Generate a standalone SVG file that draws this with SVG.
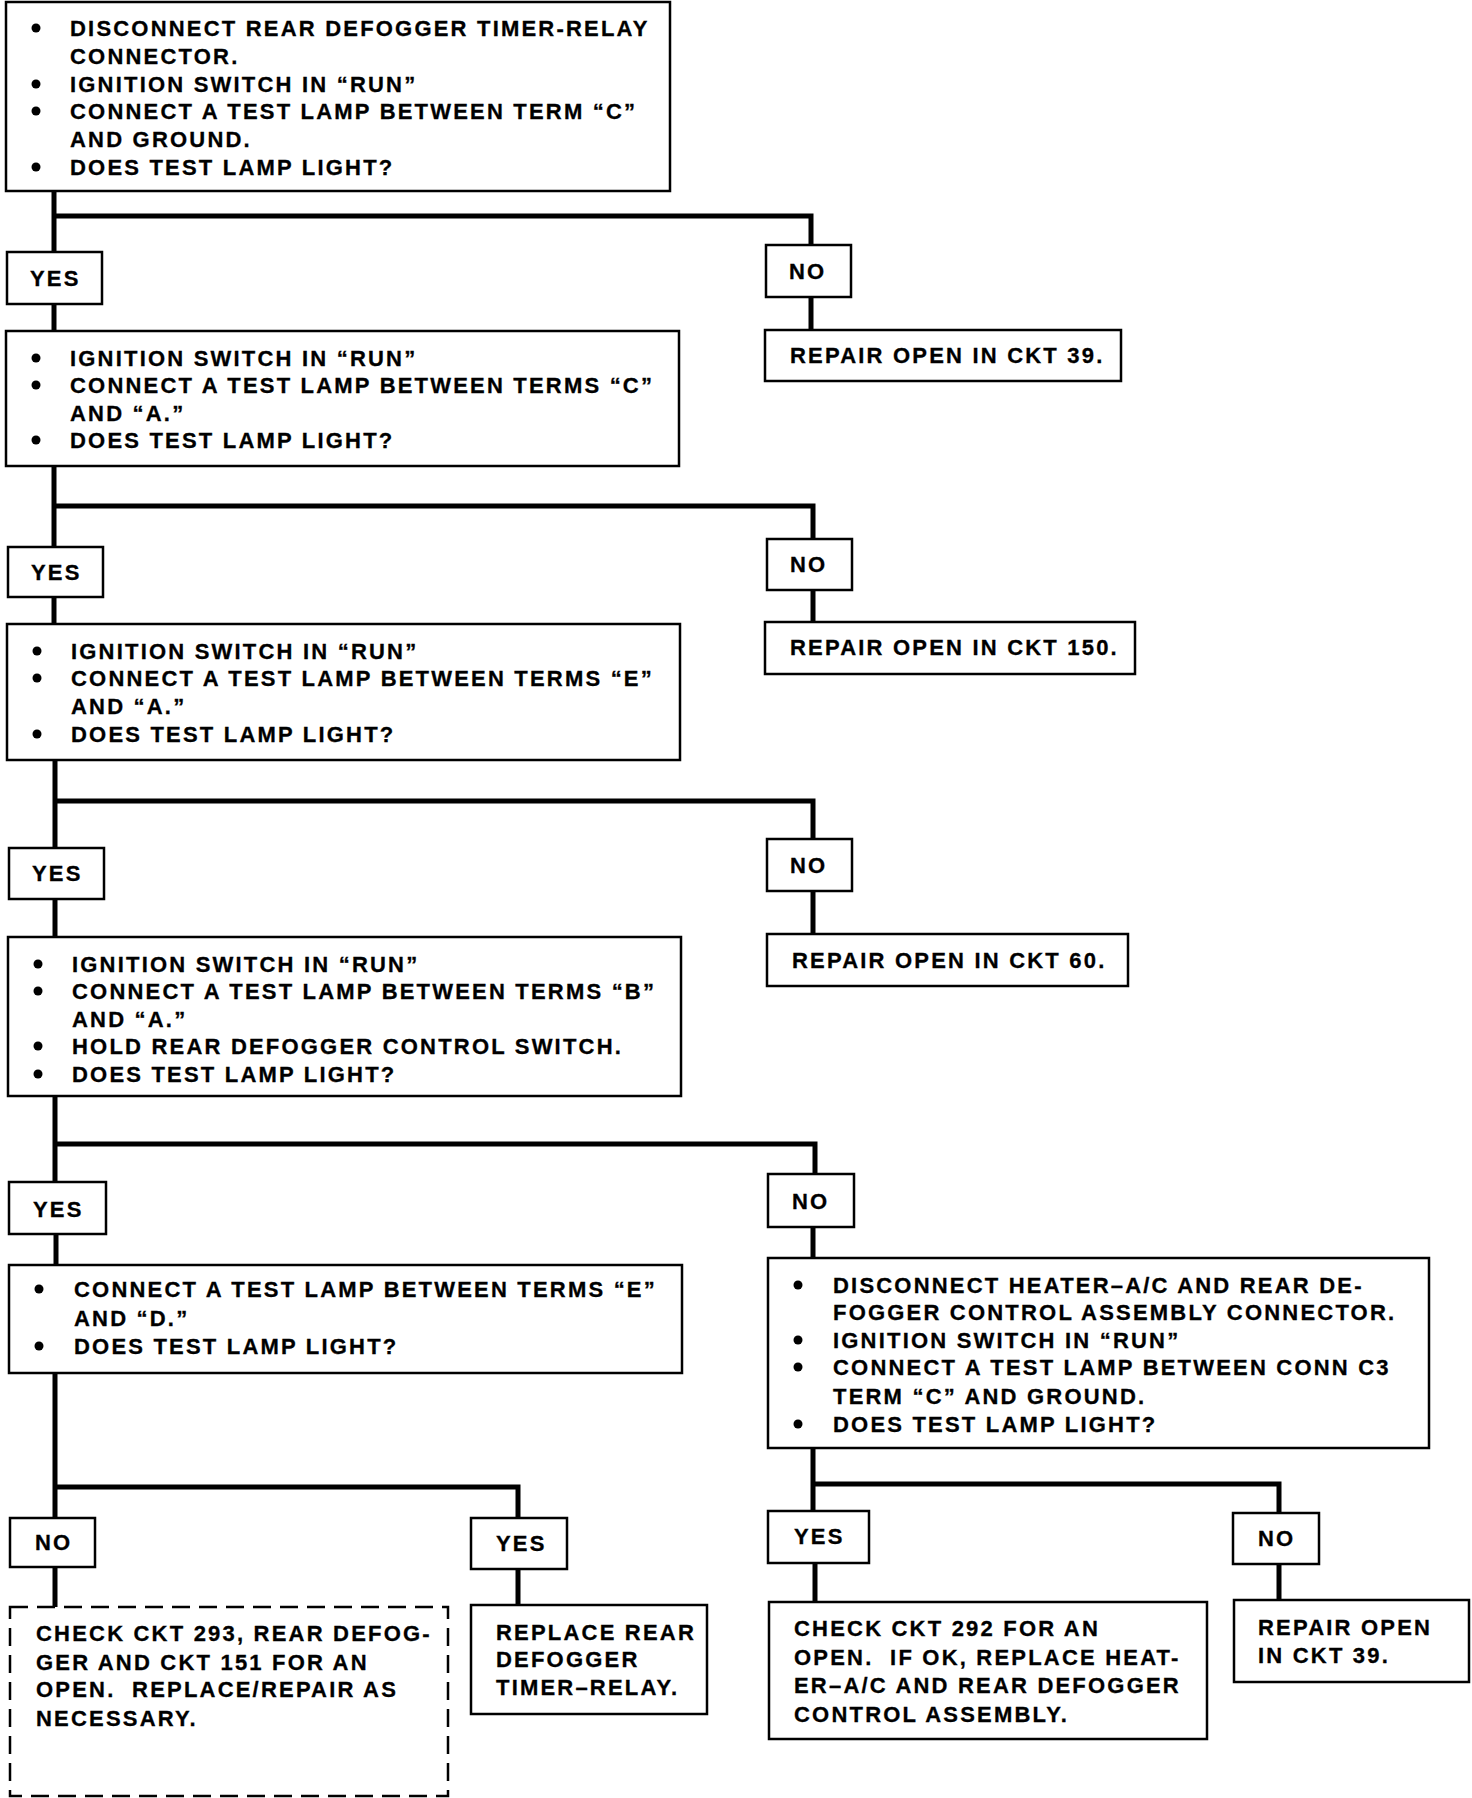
<svg xmlns="http://www.w3.org/2000/svg" width="1472" height="1798" viewBox="0 0 1472 1798">
<style>
.box{fill:#fff;stroke:#000;stroke-width:2.5}
.dash{fill:#fff;stroke:#000;stroke-width:2.5;stroke-dasharray:18 9}
.c{fill:none;stroke:#000;stroke-width:5;stroke-linejoin:miter}
text{font-family:"Liberation Sans",Arial,Helvetica,sans-serif;font-weight:bold;font-size:22px;letter-spacing:2.2px;fill:#000;stroke:#000;stroke-width:0.3;white-space:pre}
.b{fill:#000}
</style>
<rect width="1472" height="1798" fill="#fff"/>
<g id="connectors">
<path class="c" d="M54 191 V252 M54 216 H811 V245"/>
<path class="c" d="M811 297 V330"/>
<path class="c" d="M54 304 V331"/>
<path class="c" d="M54 466 V547 M54 506 H813 V539"/>
<path class="c" d="M813 590 V622"/>
<path class="c" d="M54 597 V624"/>
<path class="c" d="M55 760 V848 M55 801 H813 V839"/>
<path class="c" d="M813 891 V934"/>
<path class="c" d="M55 899 V937"/>
<path class="c" d="M55 1096 V1182 M55 1144 H815 V1174"/>
<path class="c" d="M56 1234 V1265"/>
<path class="c" d="M813 1227 V1258"/>
<path class="c" d="M55 1373 V1518 M55 1487 H518 V1518"/>
<path class="c" d="M55 1567 V1607"/>
<path class="c" d="M518 1569 V1605"/>
<path class="c" d="M813 1448 V1511 M813 1484 H1279 V1513"/>
<path class="c" d="M815 1563 V1602"/>
<path class="c" d="M1279 1564 V1600"/>
</g>
<g id="step1">
<rect class="box" x="6" y="2" width="664" height="189"/>
<circle class="b" cx="36" cy="28" r="4.5"/><text x="70" y="36">DISCONNECT REAR DEFOGGER TIMER-RELAY</text>
<text x="70" y="64">CONNECTOR.</text>
<circle class="b" cx="36" cy="84" r="4.5"/><text x="70" y="92">IGNITION SWITCH IN “RUN”</text>
<circle class="b" cx="36" cy="111" r="4.5"/><text x="70" y="119">CONNECT A TEST LAMP BETWEEN TERM “C”</text>
<text x="70" y="147">AND GROUND.</text>
<circle class="b" cx="36" cy="167" r="4.5"/><text x="70" y="175">DOES TEST LAMP LIGHT?</text>
</g>
<g id="yes1"><rect class="box" x="7" y="252" width="95" height="52"/><text x="30" y="286">YES</text></g>
<g id="no1"><rect class="box" x="766" y="245" width="85" height="52"/><text x="789" y="279">NO</text></g>
<g id="repair39a"><rect class="box" x="765" y="330" width="356" height="51"/><text x="790" y="363">REPAIR OPEN IN CKT 39.</text></g>
<g id="step2">
<rect class="box" x="6" y="331" width="673" height="135"/>
<circle class="b" cx="36" cy="358" r="4.5"/><text x="70" y="366">IGNITION SWITCH IN “RUN”</text>
<circle class="b" cx="36" cy="385" r="4.5"/><text x="70" y="393">CONNECT A TEST LAMP BETWEEN TERMS “C”</text>
<text x="70" y="421">AND “A.”</text>
<circle class="b" cx="36" cy="440" r="4.5"/><text x="70" y="448">DOES TEST LAMP LIGHT?</text>
</g>
<g id="yes2"><rect class="box" x="8" y="547" width="95" height="50"/><text x="31" y="580">YES</text></g>
<g id="no2"><rect class="box" x="767" y="539" width="85" height="51"/><text x="790" y="572">NO</text></g>
<g id="repair150"><rect class="box" x="765" y="622" width="370" height="52"/><text x="790" y="655">REPAIR OPEN IN CKT 150.</text></g>
<g id="step3">
<rect class="box" x="7" y="624" width="673" height="136"/>
<circle class="b" cx="37" cy="651" r="4.5"/><text x="71" y="659">IGNITION SWITCH IN “RUN”</text>
<circle class="b" cx="37" cy="678" r="4.5"/><text x="71" y="686">CONNECT A TEST LAMP BETWEEN TERMS “E”</text>
<text x="71" y="714">AND “A.”</text>
<circle class="b" cx="37" cy="734" r="4.5"/><text x="71" y="742">DOES TEST LAMP LIGHT?</text>
</g>
<g id="yes3"><rect class="box" x="9" y="848" width="95" height="51"/><text x="32" y="881">YES</text></g>
<g id="no3"><rect class="box" x="767" y="839" width="85" height="52"/><text x="790" y="873">NO</text></g>
<g id="repair60"><rect class="box" x="767" y="934" width="361" height="52"/><text x="792" y="968">REPAIR OPEN IN CKT 60.</text></g>
<g id="step4">
<rect class="box" x="8" y="937" width="673" height="159"/>
<circle class="b" cx="38" cy="964" r="4.5"/><text x="72" y="972">IGNITION SWITCH IN “RUN”</text>
<circle class="b" cx="38" cy="991" r="4.5"/><text x="72" y="999">CONNECT A TEST LAMP BETWEEN TERMS “B”</text>
<text x="72" y="1027">AND “A.”</text>
<circle class="b" cx="38" cy="1046" r="4.5"/><text x="72" y="1054">HOLD REAR DEFOGGER CONTROL SWITCH.</text>
<circle class="b" cx="38" cy="1074" r="4.5"/><text x="72" y="1082">DOES TEST LAMP LIGHT?</text>
</g>
<g id="yes4"><rect class="box" x="9" y="1182" width="97" height="52"/><text x="33" y="1217">YES</text></g>
<g id="no4"><rect class="box" x="768" y="1174" width="86" height="53"/><text x="792" y="1209">NO</text></g>
<g id="step5">
<rect class="box" x="9" y="1265" width="673" height="108"/>
<circle class="b" cx="39" cy="1289" r="4.5"/><text x="74" y="1297">CONNECT A TEST LAMP BETWEEN TERMS “E”</text>
<text x="74" y="1326">AND “D.”</text>
<circle class="b" cx="39" cy="1346" r="4.5"/><text x="74" y="1354">DOES TEST LAMP LIGHT?</text>
</g>
<g id="step6">
<rect class="box" x="768" y="1258" width="661" height="190"/>
<circle class="b" cx="798" cy="1285" r="4.5"/><text x="833" y="1293">DISCONNECT HEATER–A/C AND REAR DE-</text>
<text x="833" y="1320">FOGGER CONTROL ASSEMBLY CONNECTOR.</text>
<circle class="b" cx="798" cy="1340" r="4.5"/><text x="833" y="1348">IGNITION SWITCH IN “RUN”</text>
<circle class="b" cx="798" cy="1367" r="4.5"/><text x="833" y="1375">CONNECT A TEST LAMP BETWEEN CONN C3</text>
<text x="833" y="1404">TERM “C” AND GROUND.</text>
<circle class="b" cx="798" cy="1424" r="4.5"/><text x="833" y="1432">DOES TEST LAMP LIGHT?</text>
</g>
<g id="no5"><rect class="box" x="10" y="1518" width="85" height="49"/><text x="35" y="1550">NO</text></g>
<g id="yes5"><rect class="box" x="471" y="1518" width="96" height="51"/><text x="496" y="1551">YES</text></g>
<g id="check293">
<rect class="dash" x="10" y="1607" width="438" height="189"/>
<text x="36" y="1641">CHECK CKT 293, REAR DEFOG-</text>
<text x="36" y="1670">GER AND CKT 151 FOR AN</text>
<text x="36" y="1697">OPEN.  REPLACE/REPAIR AS</text>
<text x="36" y="1726">NECESSARY.</text>
</g>
<g id="replace">
<rect class="box" x="471" y="1605" width="236" height="109"/>
<text x="496" y="1640">REPLACE REAR</text>
<text x="496" y="1667">DEFOGGER</text>
<text x="496" y="1695">TIMER–RELAY.</text>
</g>
<g id="yes6"><rect class="box" x="768" y="1511" width="101" height="52"/><text x="794" y="1544">YES</text></g>
<g id="no6"><rect class="box" x="1233" y="1513" width="86" height="51"/><text x="1258" y="1546">NO</text></g>
<g id="check292">
<rect class="box" x="769" y="1602" width="438" height="137"/>
<text x="794" y="1636">CHECK CKT 292 FOR AN</text>
<text x="794" y="1665">OPEN.  IF OK, REPLACE HEAT-</text>
<text x="794" y="1693">ER–A/C AND REAR DEFOGGER</text>
<text x="794" y="1722">CONTROL ASSEMBLY.</text>
</g>
<g id="repair39b">
<rect class="box" x="1234" y="1600" width="235" height="82"/>
<text x="1258" y="1635">REPAIR OPEN</text>
<text x="1258" y="1663">IN CKT 39.</text>
</g>
</svg>
